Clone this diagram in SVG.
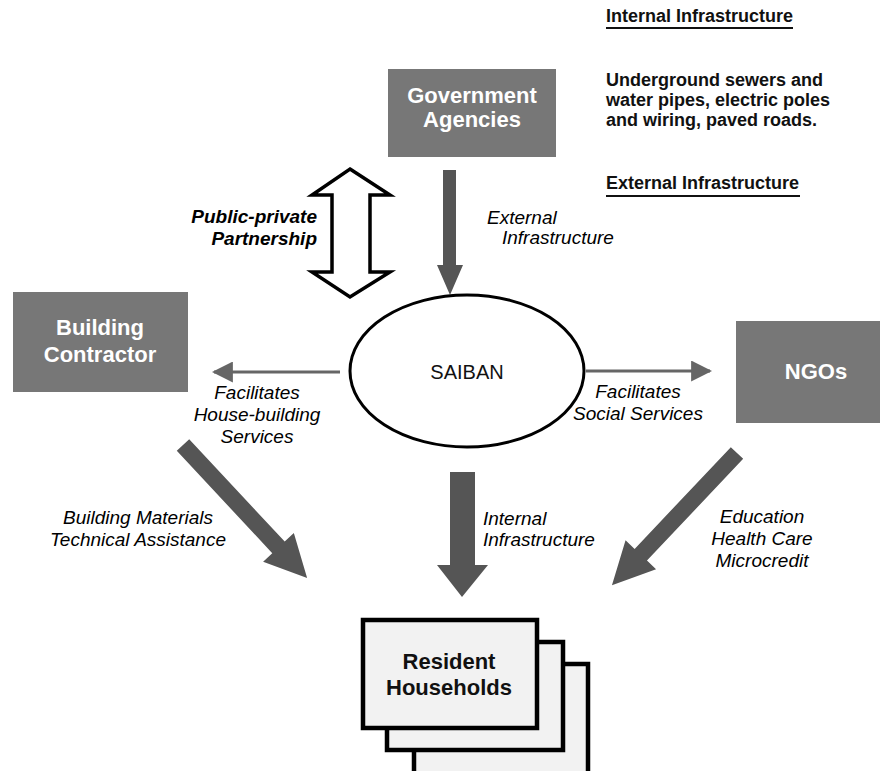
<svg xmlns="http://www.w3.org/2000/svg" width="880" height="771" viewBox="0 0 880 771">
<style>
.box{fill:#777777;}
.bt{font-family:"Liberation Sans",Arial,sans-serif;font-weight:bold;font-size:22px;fill:#ffffff;text-anchor:middle;}
.lab{font-family:"Liberation Sans",Arial,sans-serif;font-style:italic;font-size:19px;fill:#000000;}
.c{text-anchor:middle;}
.note{font-family:"Liberation Sans",Arial,sans-serif;font-weight:bold;font-size:18px;fill:#111111;}
.thick{fill:#555555;}
.thin{stroke:#666666;stroke-width:3;fill:none;}
.hh{fill:#f2f2f2;stroke:#000000;stroke-width:4.5;}
</style>
<defs>
<marker id="ah" viewBox="0 0 10 10" refX="9" refY="5" markerWidth="7" markerHeight="7" markerUnits="strokeWidth" orient="auto">
<path d="M0,0 L10,5 L0,10 Z" fill="#666666"/>
</marker>
<polygon id="diag" points="0,-8.5 140,-8.5 140,-21 182,0 140,21 140,8.5 0,8.5"/>
</defs>
<rect width="880" height="771" fill="#ffffff"/>

<g id="notes">
<text class="note" x="606" y="22">Internal Infrastructure</text>
<line x1="606" y1="28" x2="793" y2="28" stroke="#111" stroke-width="2"/>
<text class="note" x="606" y="86">Underground sewers and</text>
<text class="note" x="606" y="106">water pipes, electric poles</text>
<text class="note" x="606" y="126">and wiring, paved roads.</text>
<text class="note" x="606" y="189">External Infrastructure</text>
<line x1="606" y1="196" x2="800" y2="196" stroke="#111" stroke-width="2"/>
</g>

<g id="connectors">
<polygon class="thick" points="443,170 456,170 456,265 463,265 450,295 437,265 443,265"/>
<polygon points="350,169 390,195 370,195 370,272 390,272 350,297 312,272 332,272 332,195 312,195" fill="#ffffff" stroke="#000000" stroke-width="3.5" stroke-linejoin="miter"/>
<line class="thin" x1="340" y1="372" x2="214" y2="372" marker-end="url(#ah)"/>
<line class="thin" x1="586" y1="371" x2="710" y2="371" marker-end="url(#ah)"/>
<polygon class="thick" points="450,472 475,472 475,565 488,565 462,597 437,565 450,565"/>
<use href="#diag" class="thick" transform="translate(183,445) rotate(47)"/>
<use href="#diag" class="thick" transform="translate(737,453) rotate(133.4)"/>

<text class="lab" x="487" y="224">External</text>
<text class="lab" x="502" y="244">Infrastructure</text>
<text class="lab" x="317" y="223" text-anchor="end" font-weight="bold">Public-private</text>
<text class="lab" x="317" y="245" text-anchor="end" font-weight="bold">Partnership</text>
<text class="lab c" x="257" y="399">Facilitates</text>
<text class="lab c" x="257" y="421">House-building</text>
<text class="lab c" x="257" y="443">Services</text>
<text class="lab c" x="638" y="398">Facilitates</text>
<text class="lab c" x="638" y="420">Social Services</text>
<text class="lab c" x="138" y="524">Building Materials</text>
<text class="lab c" x="138" y="546">Technical Assistance</text>
<text class="lab" x="483" y="525">Internal</text>
<text class="lab" x="483" y="546">Infrastructure</text>
<text class="lab c" x="762" y="523">Education</text>
<text class="lab c" x="762" y="545">Health Care</text>
<text class="lab c" x="762" y="567">Microcredit</text>
</g>

<g id="gov">
<rect class="box" x="388" y="69" width="168" height="88"/>
<text class="bt" x="472" y="103">Government</text>
<text class="bt" x="472" y="127">Agencies</text>
</g>

<g id="contractor">
<rect class="box" x="13" y="292" width="175" height="100"/>
<text class="bt" x="100" y="335">Building</text>
<text class="bt" x="100" y="362">Contractor</text>
</g>

<g id="ngos">
<rect class="box" x="736" y="321" width="144" height="102"/>
<text class="bt" x="816" y="379">NGOs</text>
</g>

<g id="saiban">
<ellipse cx="467" cy="371" rx="117" ry="76" fill="#ffffff" stroke="#000000" stroke-width="3"/>
<text x="467" y="379" font-family="Liberation Sans,Arial,sans-serif" font-size="20" text-anchor="middle" fill="#111">SAIBAN</text>
</g>

<g id="households">
<rect class="hh" x="414" y="664" width="174" height="110"/>
<rect class="hh" x="387" y="642" width="176" height="108"/>
<rect class="hh" x="363" y="620" width="174" height="108"/>
<text x="449" y="669" font-family="Liberation Sans,Arial,sans-serif" font-weight="bold" font-size="22" text-anchor="middle" fill="#111">Resident</text>
<text x="449" y="695" font-family="Liberation Sans,Arial,sans-serif" font-weight="bold" font-size="22" text-anchor="middle" fill="#111">Households</text>
</g>
</svg>
